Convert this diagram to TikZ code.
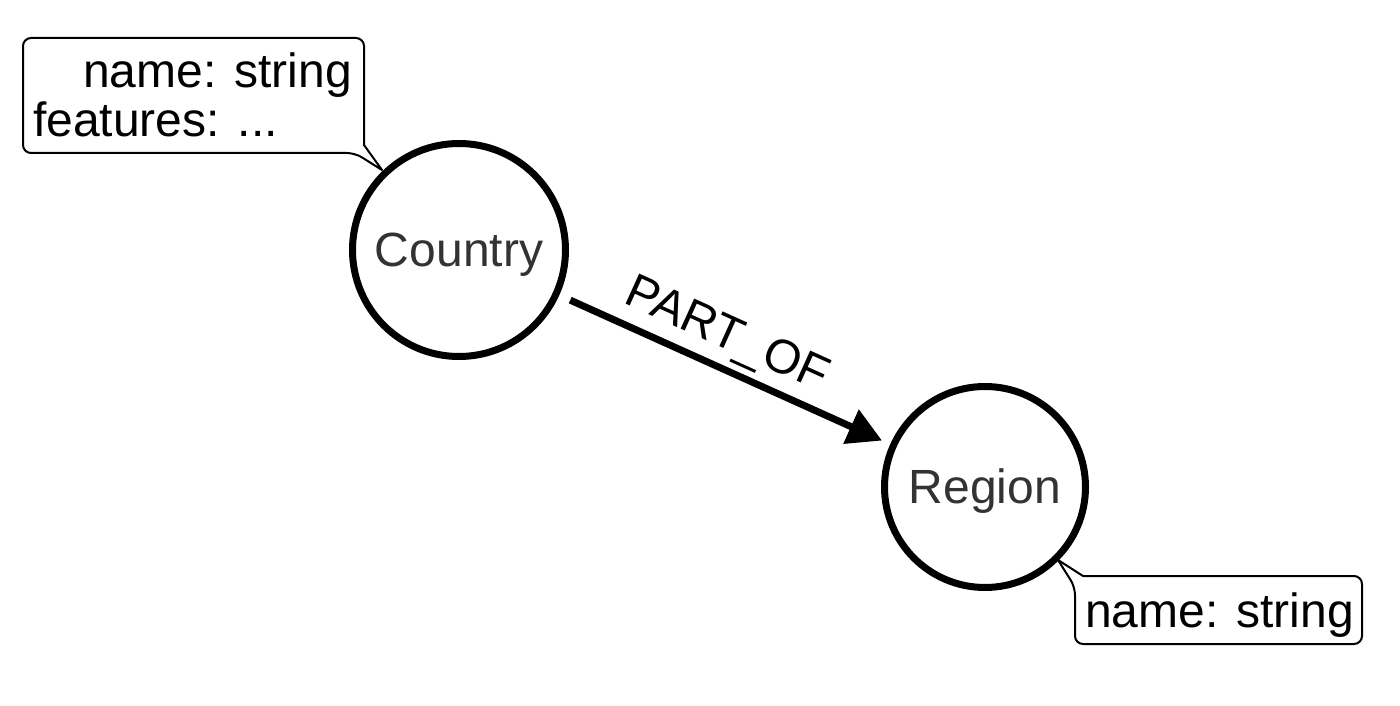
\documentclass[tikz,border=0pt]{standalone}
\usepackage{fontspec}
\setmainfont{Liberation Sans}
\usetikzlibrary{arrows.meta}
\definecolor{nodetext}{HTML}{333333}
\begin{document}
\begin{tikzpicture}[x=1pt,y=-1pt,
  entity/.style={circle,draw=black,line width=7pt,inner sep=0pt,text=nodetext,font=\fontsize{48}{56}\selectfont},
  callout/.style={draw=black,line width=2pt,fill=white,line join=round},
  calltext/.style={inner sep=0pt,font=\fontsize{48}{56}\selectfont},
  relation/.style={line width=7pt,-{Triangle[length=34pt,width=36pt]},shorten <=12pt,shorten >=9pt},
  rellabel/.style={inner sep=0pt,font=\fontsize{48}{56}\selectfont}]
\useasboundingbox (0,0) rectangle (1400,706);
\fill[white] (0,0) rectangle (1400,706);

\node[entity,minimum size=213pt] (country) at (459,250) {};
\node[nodetext,font=\fontsize{48}{56}\selectfont,anchor=base,inner sep=0pt] (countrylbl) at (459,266) {Country};
\node[entity,minimum size=201pt] (region) at (985,487) {};
\node[nodetext,font=\fontsize{48}{56}\selectfont,anchor=base,inner sep=0pt] (regionlbl) at (985,503) {Region};

\draw[relation] (country) -- (region);
\node[rellabel,anchor=base,rotate=-24.3] (partof) at (721,347) {PART\_OF};

% callout for Country
\coordinate (tipA) at (382,170);
\draw[callout] (355,153) [sharp corners] -- (tipA) -- (364,145) [rounded corners=8pt] -- (364,38) -- (23,38) -- (23,153) -- cycle;
\node[calltext,anchor=base east] (cname) at (352,88) {name: string};
\node[calltext,anchor=base west] (cfeat) at (33,137) {features: ...};

% callout for Region
\coordinate (tipB) at (1058,560);
\draw[callout] (1075,587) [sharp corners] -- (tipB) -- (1083,576) [rounded corners=8pt] -- (1362,576) -- (1362,644) -- (1075,644) -- cycle;
\node[calltext,anchor=base west] (rname) at (1085,627) {name: string};
\end{tikzpicture}
\end{document}
